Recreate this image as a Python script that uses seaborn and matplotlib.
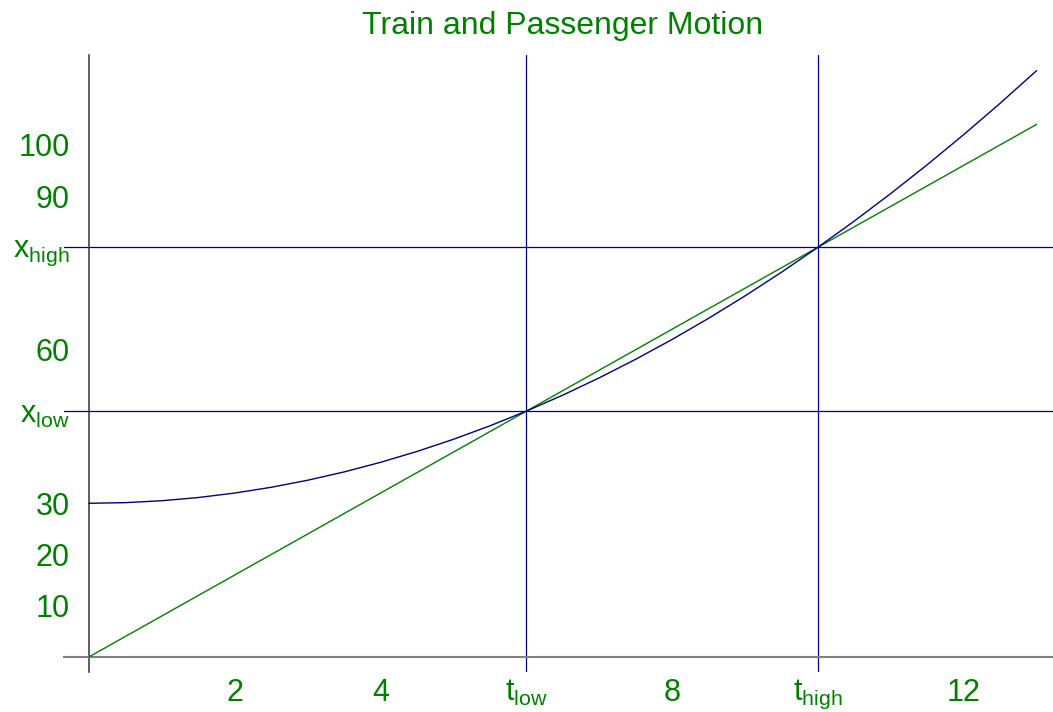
import matplotlib
matplotlib.use("Agg")
import matplotlib.pyplot as plt
import seaborn as sns
import pandas as pd

# Time samples (s) and positions (m) for the train and the passenger
t_values = [0, 0.5, 1, 1.5, 2, 2.5, 3, 3.5, 4, 4.5, 5, 5.5, 6, 6.5,
            7, 7.5, 8, 8.5, 9, 9.5, 10, 10.5, 11, 11.5, 12, 12.5, 13]
train_x = [30, 30.125, 30.5, 31.125, 32, 33.125, 34.5, 36.125, 38, 40.125,
           42.5, 45.125, 48, 51.125, 54.5, 58.125, 62, 66.125, 70.5, 75.125,
           80, 85.125, 90.5, 96.125, 102, 108.125, 114.5]
passenger_x = [0, 4, 8, 12, 16, 20, 24, 28, 32, 36, 40, 44, 48, 52,
               56, 60, 64, 68, 72, 76, 80, 84, 88, 92, 96, 100, 104]

# Meeting points
t_low, t_high = 6, 10
x_low, x_high = 48, 80

x_ticks = [2, 4, t_low, 8, t_high, 12]
x_tick_labels = ["2", "4", "$t_{low}$", "8", "$t_{high}$", "12"]
y_ticks = [10, 20, 30, x_low, 60, x_high, 90, 100]
y_tick_labels = ["10", "20", "30", "$x_{low}$", "60", "$x_{high}$", "90", "100"]

title = "Train and Passenger Motion"

sns.set_style("white")
plt.rcParams["font.family"] = ["Liberation Sans", "DejaVu Sans"]
plt.rcParams["mathtext.default"] = "regular"

GREEN = "#008000"
NAVY = "#000080"

df = pd.DataFrame({"t": t_values, "train": train_x, "passenger": passenger_x})

W, H = 1053, 712
fig = plt.figure(figsize=(W / 100, H / 100), dpi=100)
ax = fig.add_axes([64 / W, 1 - 672 / H, (1053 - 64) / W, (672 - 55) / H])

ax.axhline(x_low, color=NAVY, lw=0.9, zorder=1)
ax.axhline(x_high, color=NAVY, lw=0.9, zorder=1)
ax.axvline(t_low, color=NAVY, lw=0.9, zorder=1)
ax.axvline(t_high, color=NAVY, lw=0.9, zorder=1)

sns.lineplot(data=df, x="t", y="passenger", color=GREEN, lw=1.0, ax=ax, zorder=3)
sns.lineplot(data=df, x="t", y="train", color=NAVY, lw=1.0, ax=ax, zorder=3)

ax.set_xlim(-0.343, 13.225)
ax.set_ylim(-2.95, 117.55)

for side in ("top", "right"):
    ax.spines[side].set_visible(False)
ax.spines["left"].set_position(("data", 0))
ax.spines["bottom"].set_position(("data", 0))
ax.spines["left"].set_color("#333333")
ax.spines["bottom"].set_color("#808080")
ax.spines["left"].set_linewidth(1.1)
ax.spines["bottom"].set_linewidth(1.5)

ax.set_xticks(x_ticks)
ax.set_xticklabels(x_tick_labels)
ax.set_yticks(y_ticks)
ax.set_yticklabels(y_tick_labels)
ax.tick_params(axis="both", direction="in", length=5, width=0.8, color="black",
               labelcolor=GREEN, labelsize=22)
ax.tick_params(axis="x", pad=15)
ax.tick_params(axis="y", pad=14)
ax.set_xlabel("")
ax.set_ylabel("")

fig.text(562.5 / W, 1 - 26 / H, title, color=GREEN, fontsize=23,
         ha="center", va="center")

fig.savefig("out.png", dpi=100)
